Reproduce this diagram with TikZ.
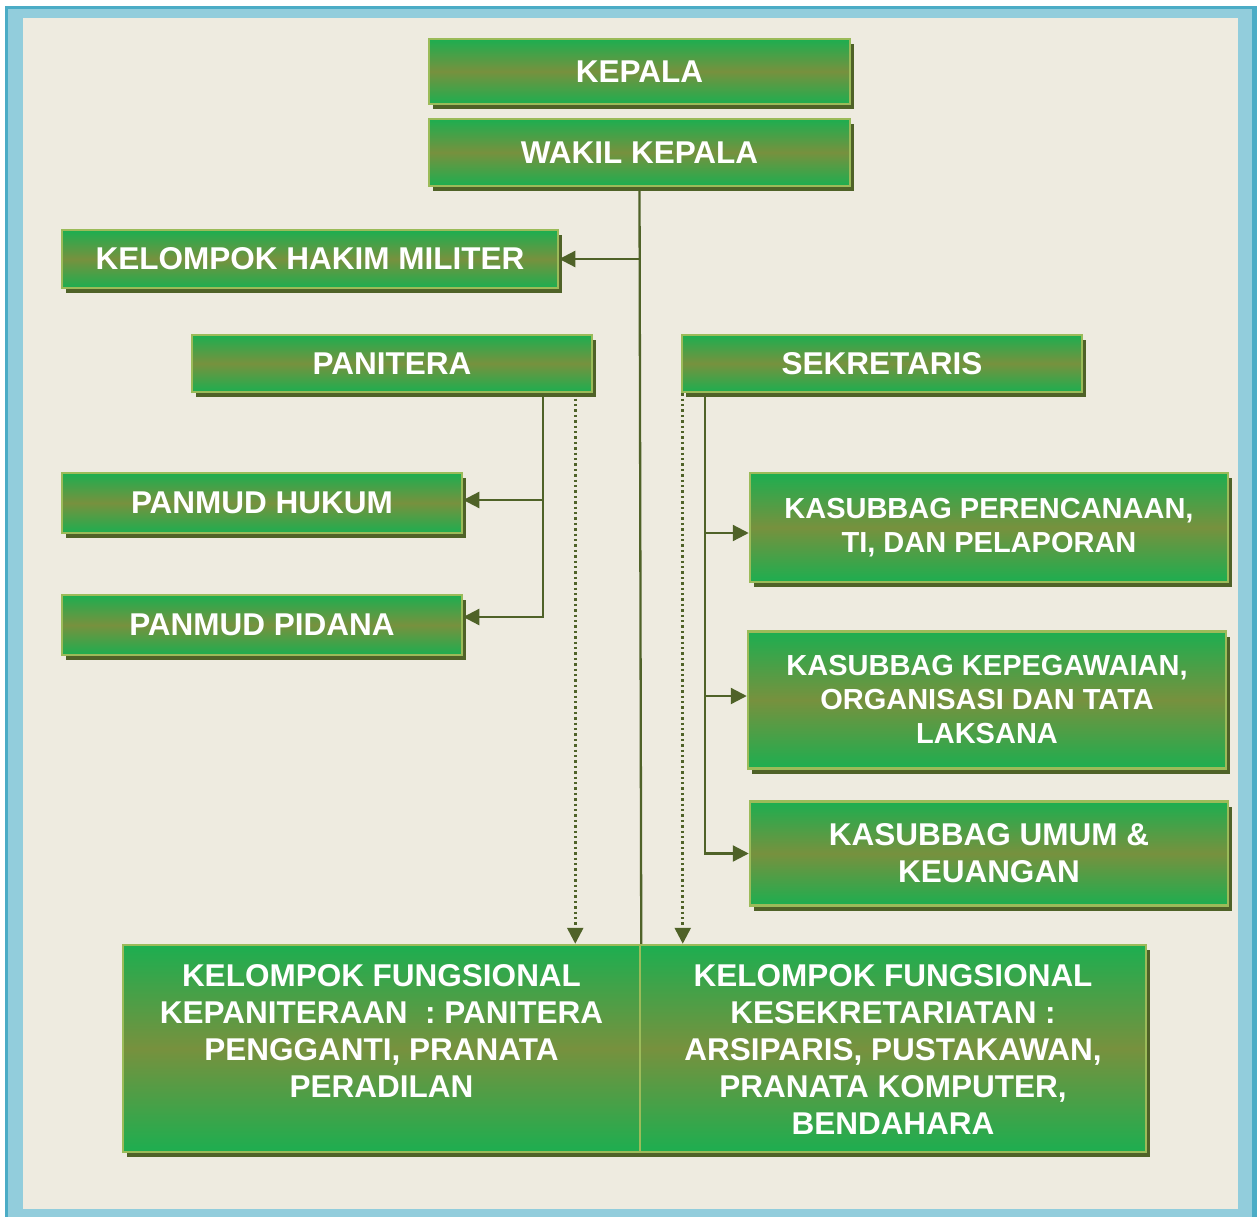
\documentclass[tikz,border=0pt]{standalone}
\usepackage{fontspec}
\setmainfont{Liberation Sans}
\usetikzlibrary{arrows.meta,shadows}

\definecolor{paper}{HTML}{EEEBE0}
\definecolor{framelight}{HTML}{92CDDC}
\definecolor{framedark}{HTML}{4BACC6}
\definecolor{boxgreen}{HTML}{1DAE50}
\definecolor{boxolive}{HTML}{77913E}
\definecolor{boxedge}{HTML}{9BBB59}
\definecolor{boxshadow}{HTML}{4F6228}
\definecolor{linkcol}{HTML}{4F6228}

\tikzset{
  orgbox/.style={draw=boxedge, line width=2.5pt, top color=boxgreen, bottom color=boxgreen, middle color=boxolive,
    drop shadow={fill=boxshadow, opacity=1, shadow xshift=4pt, shadow yshift=-5pt},
    text=white, align=center, inner sep=0pt, font=\bfseries\fontsize{31.5}{37}\selectfont},
  smallbox/.style={orgbox, font=\bfseries\fontsize{29}{34}\selectfont},
  link/.style={draw=linkcol, line width=2.3pt},
  arrowlink/.style={link, -{Triangle[length=16pt,width=16pt]}},
  dotlink/.style={arrowlink, line width=2.6pt, dash pattern=on 2.4pt off 3pt},
}

\begin{document}
\begin{tikzpicture}[x=1pt, y=-1pt]
    \useasboundingbox (0,0) rectangle (1257,1217);
    % Frame
    \fill[framedark] (5,6) rectangle (1257,1217);
    \fill[framelight] (8,9) rectangle (1252,1217);
    \fill[paper] (23,18) rectangle (1238,1209);

    % Draw nodes
    \node[orgbox, minimum width=421pt, minimum height=65pt] (kepala) at (639.5,71.5) {KEPALA};
    \node[orgbox, minimum width=421pt, minimum height=67pt] (wakil) at (639.5,152.5) {WAKIL KEPALA};
    \node[orgbox, minimum width=496pt, minimum height=58pt] (hakim) at (310,259) {KELOMPOK HAKIM MILITER};
    \node[orgbox, minimum width=400pt, minimum height=57pt] (panitera) at (392,363.5) {PANITERA};
    \node[orgbox, minimum width=400pt, minimum height=57pt] (sekretaris) at (882,363.5) {SEKRETARIS};
    \node[orgbox, minimum width=400pt, minimum height=60pt] (hukum) at (262,503) {PANMUD HUKUM};
    \node[orgbox, minimum width=400pt, minimum height=60pt] (pidana) at (262,625) {PANMUD PIDANA};
    \node[smallbox, minimum width=478pt, minimum height=109pt] (perencanaan) at (989,527.5) {KASUBBAG PERENCANAAN,\\ TI, DAN PELAPORAN};
    \node[smallbox, minimum width=478pt, minimum height=137pt] (kepegawaian) at (987,700) {KASUBBAG KEPEGAWAIAN,\\ ORGANISASI DAN TATA\\ LAKSANA};
    \node[orgbox, minimum width=478pt, minimum height=104pt] (umum) at (989,853.5) {KASUBBAG UMUM \&\\ KEUANGAN};
    \node[orgbox, minimum width=517pt, minimum height=207pt] (fkp) at (381.5,1048.5)
        {\parbox[c][169pt][t]{500pt}{\centering KELOMPOK FUNGSIONAL\\ KEPANITERAAN\ \ : PANITERA\\ PENGGANTI, PRANATA\\ PERADILAN}};
    \node[orgbox, minimum width=506pt, minimum height=207pt] (fks) at (893,1048.5)
        {\parbox[c][169pt][t]{490pt}{\centering KELOMPOK FUNGSIONAL\\ KESEKRETARIATAN :\\ ARSIPARIS, PUSTAKAWAN,\\ PRANATA KOMPUTER,\\ BENDAHARA}};

    % Branch points
    \coordinate (panl) at ([xshift=-50pt]panitera.south east);
    \coordinate (pand) at ([xshift=-18pt]panitera.south east);
    \coordinate (sekl) at ([xshift=24pt]sekretaris.south west);
    \coordinate (sekd) at ([xshift=2pt]sekretaris.south west);
    \coordinate (hukumin) at ([yshift=3pt]hukum.east);
    \coordinate (pidanain) at ([yshift=8pt]pidana.east);
    \coordinate (perin) at ([yshift=-5.5pt]perencanaan.west);
    \coordinate (kepin) at ([yshift=4pt]kepegawaian.west);

    % Draw connections
    \draw[link] (wakil.south) -- (fkp.north east);
    \draw[arrowlink] (wakil.south |- hakim.east) -- (hakim.east);
    \draw[arrowlink] (panl) |- (pidanain);
    \draw[arrowlink] (panl |- hukumin) -- (hukumin);
    \draw[dotlink] (pand) -- (pand |- fkp.north);
    \draw[arrowlink] (sekl) |- (umum.west);
    \draw[arrowlink] (sekl |- perin) -- (perin);
    \draw[arrowlink] (sekl |- kepin) -- (kepin);
    \draw[dotlink] (sekd) -- (sekd |- fks.north);
\end{tikzpicture}
\end{document}
